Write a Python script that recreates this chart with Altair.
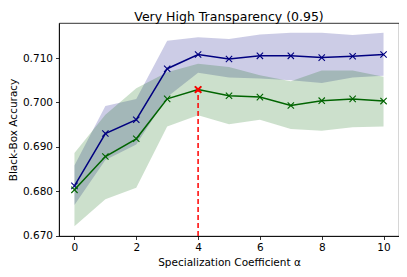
import altair as alt
import pandas as pd

alpha = [0, 1, 2, 3, 4, 5, 6, 7, 8, 9, 10]
blue_mean = [0.6812, 0.6930, 0.6961, 0.7076, 0.7108, 0.7098, 0.7105, 0.7105, 0.7101, 0.7104, 0.7108]
blue_upper = [0.6858, 0.6992, 0.7008, 0.7139, 0.7147, 0.7143, 0.7153, 0.7157, 0.7157, 0.7152, 0.7157]
blue_lower = [0.6769, 0.6870, 0.6905, 0.7012, 0.7067, 0.7056, 0.7054, 0.7050, 0.7044, 0.7056, 0.7060]
green_mean = [0.6803, 0.6878, 0.6918, 0.7008, 0.7029, 0.7015, 0.7012, 0.6993, 0.7004, 0.7008, 0.7003]
green_upper = [0.6886, 0.6972, 0.7032, 0.7068, 0.7087, 0.7080, 0.7061, 0.7048, 0.7072, 0.7072, 0.7058]
green_lower = [0.6721, 0.6782, 0.6808, 0.6946, 0.6971, 0.6951, 0.6961, 0.6940, 0.6936, 0.6944, 0.6946]
best_alpha = [4]
best_acc = [0.7029]
y_min = [0.6699]

blue_df = pd.DataFrame({"alpha": alpha, "mean": blue_mean, "lo": blue_lower, "hi": blue_upper})
green_df = pd.DataFrame({"alpha": alpha, "mean": green_mean, "lo": green_lower, "hi": green_upper})
best_df = pd.DataFrame({"alpha": best_alpha, "acc": best_acc, "ymin": y_min})

xs = alt.Scale(domain=[-0.5, 10.5], nice=False, zero=False)
ys = alt.Scale(domain=[0.6699, 0.7179], nice=False, zero=False)

xax = alt.Axis(values=[0, 2, 4, 6, 8, 10], title="Specialization Coefficient α", grid=False)
yax = alt.Axis(values=[0.67, 0.68, 0.69, 0.70, 0.71], format=".3f", title="Black-Box Accuracy", grid=False)

XSHAPE = "M-1,-1L1,1M-1,1L1,-1"

def band(df, color):
    return alt.Chart(df).mark_area(color=color, opacity=0.2).encode(
        x=alt.X("alpha:Q", scale=xs, axis=xax),
        y=alt.Y("lo:Q", scale=ys, axis=yax),
        y2="hi:Q",
    )

def line(df, color):
    base = alt.Chart(df).encode(
        x=alt.X("alpha:Q", scale=xs, axis=xax),
        y=alt.Y("mean:Q", scale=ys, axis=yax),
    )
    return base.mark_line(color=color, strokeWidth=1.5) + base.mark_point(
        shape=XSHAPE, color=color, size=40, filled=False, strokeWidth=1.1, opacity=1
    )

rule = alt.Chart(best_df).mark_rule(color="red", strokeDash=[5, 3], strokeWidth=1.5).encode(
    x=alt.X("alpha:Q", scale=xs),
    y=alt.Y("ymin:Q", scale=ys),
    y2="acc:Q",
)
star = alt.Chart(best_df).mark_point(shape=XSHAPE, color="red", size=40, filled=False, strokeWidth=2, opacity=1).encode(
    x=alt.X("alpha:Q", scale=xs),
    y=alt.Y("acc:Q", scale=ys),
)

chart = alt.layer(
    band(blue_df, "navy"),
    band(green_df, "darkgreen"),
    line(blue_df, "navy"),
    line(green_df, "darkgreen"),
    rule,
    star,
).properties(
    width=340,
    height=213,
    autosize=alt.AutoSizeParams(type="none"),
    padding={"left": 51, "top": 15, "right": 0, "bottom": 33},
    title=alt.Title("Very High Transparency (0.95)", fontSize=12.5, font="DejaVu Sans",
                    fontWeight="normal", anchor="middle", offset=0, color="black"),
).configure_view(
    stroke="black", strokeWidth=0.8
).configure_axis(
    labelFont="DejaVu Sans", titleFont="DejaVu Sans", labelFontSize=10.5, titleFontSize=10.5,
    titleFontWeight="normal", labelColor="black", titleColor="black",
    domainColor="black", domainWidth=0.8, tickColor="black", tickWidth=0.8, tickSize=3.5,
    labelPadding=3, titlePadding=4,
)

chart.save("out.html", embed_options={"renderer": "svg", "actions": False})
